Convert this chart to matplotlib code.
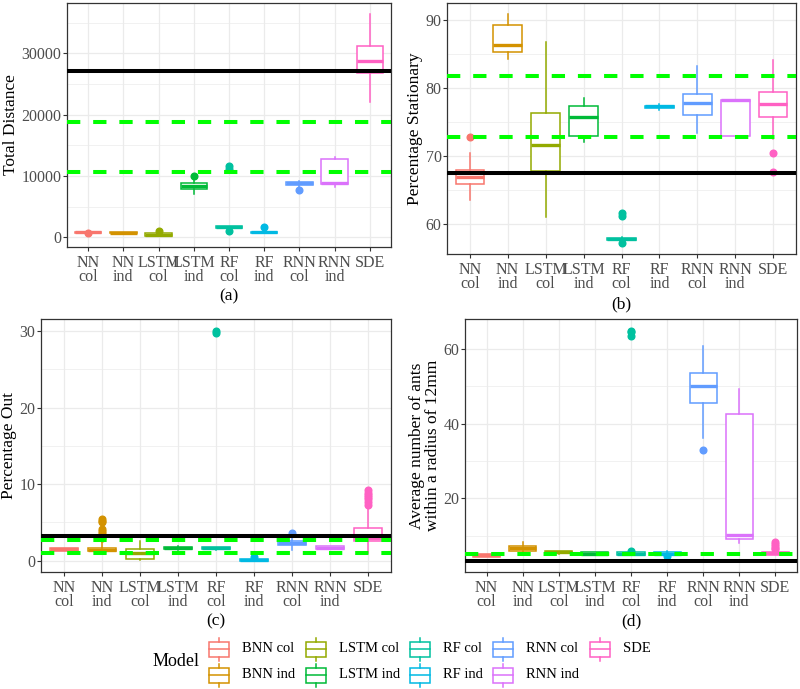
import matplotlib.pyplot as plt
from matplotlib.patches import Rectangle
from matplotlib.ticker import FixedLocator

plt.rcParams['font.family'] = ['Liberation Serif', 'DejaVu Serif']

models = ["BNN col", "BNN ind", "LSTM col", "LSTM ind", "RF col",
          "RF ind", "RNN col", "RNN ind", "SDE"]
tick_labels = ["NN\ncol", "NN\nind", "LSTM\ncol", "LSTM\nind", "RF\ncol",
               "RF\nind", "RNN\ncol", "RNN\nind", "SDE"]
colors = ["#F8766D", "#D39200", "#93AA00", "#00BA38", "#00C19F",
          "#00B9E3", "#619CFF", "#DB72FB", "#FF61C3"]

# (a) total distance
dist_med = [800, 750, 430, 8300, 1600, 780, 8800, 8880, 28800]
dist_q1 = [700, 680, 220, 7900, 1450, 650, 8500, 8660, 26850]
dist_q3 = [900, 820, 650, 8880, 1750, 900, 9040, 12670, 31130]
dist_lo = [650, 650, 200, 7000, 1300, 600, 8000, 8120, 22040]
dist_hi = [950, 850, 700, 9800, 1900, 1500, 9200, 13100, 36380]
dist_fliers = [[600], [], [1030], [10000], [11600, 11200, 1080], [1650],
               [7630], [], []]
dist_black = 27070
dist_green = [10670, 18790]

# (b) percentage stationary
stat_med = [66.9, 86.3, 71.6, 75.8, 57.9, 77.3, 77.8, 78.2, 77.6]
stat_q1 = [65.95, 85.3, 67.8, 73.0, 57.7, 77.1, 76.0, 72.9, 75.8]
stat_q3 = [67.9, 89.2, 76.4, 77.4, 58.0, 77.4, 79.1, 78.3, 79.4]
stat_lo = [63.5, 84.2, 61.1, 72.0, 57.6, 76.7, 73.4, 72.9, 72.5]
stat_hi = [70.4, 90.8, 86.8, 78.5, 58.1, 77.7, 83.2, 78.3, 84.1]
stat_fliers = [[72.8], [], [], [], [61.6, 61.2, 57.3], [], [], [],
               [70.4, 67.7]]
stat_black = 67.5
stat_green = [72.8, 81.7]

# (c) percentage out
out_med = [1.45, 1.4, 1.0, 1.6, 1.6, 0.05, 2.3, 1.7, 3.0]
out_q1 = [1.25, 1.25, 0.2, 1.45, 1.45, 0.0, 2.0, 1.55, 2.55]
out_q3 = [1.65, 1.6, 1.55, 1.8, 1.75, 0.15, 2.6, 1.85, 4.25]
out_lo = [1.2, 1.2, 0.1, 1.4, 1.4, 0.0, 1.4, 1.5, 1.0]
out_hi = [1.7, 2.8, 2.5, 1.85, 1.8, 0.2, 3.3, 1.9, 7.0]
out_fliers = [[], [3.0, 3.3, 3.6, 3.9, 4.1, 5.0, 5.2, 5.4], [], [],
              [30.1, 29.8], [0.4], [3.6], [],
              [7.3, 7.6, 8.0, 8.3, 8.6, 8.9, 9.2]]
out_black = 3.2
out_green = [1.0, 2.7]

# (d) average number of ants within 12mm
near_med = [4.7, 6.6, 5.6, 5.2, 5.2, 5.2, 50.0, 10.2, 5.3]
near_q1 = [4.4, 5.9, 5.3, 4.8, 4.9, 4.8, 45.6, 9.1, 4.8]
near_q3 = [5.0, 7.3, 5.9, 5.6, 5.5, 5.7, 53.5, 42.5, 5.7]
near_lo = [4.3, 5.5, 5.2, 4.7, 4.8, 4.7, 36.2, 8.0, 4.7]
near_hi = [5.1, 8.2, 6.0, 5.7, 5.6, 5.8, 60.9, 49.4, 5.8]
near_fliers = [[], [], [], [], [5.9, 63.5, 64.6, 65.0], [4.6], [33.1], [],
               [6.4, 6.8, 7.3, 7.8, 8.2]]
near_black = 3.35
near_green = [5.0]

GRID = "#EBEBEB"
DARK = "#333333"
TICKTXT = "#4D4D4D"


def draw_panel(ax, med, q1, q3, lo, hi, fliers, black, green,
               ylabel, panel, yticks, yminor):
    stats = []
    for i in range(len(models)):
        stats.append(dict(med=med[i], q1=q1[i], q3=q3[i], whislo=lo[i],
                          whishi=hi[i], fliers=fliers[i]))
    pos = list(range(1, len(models) + 1))
    art = ax.bxp(stats, positions=pos, widths=0.75, patch_artist=True,
                 showcaps=False, manage_ticks=False, zorder=3)
    for i, c in enumerate(colors):
        art["boxes"][i].set(facecolor="white", edgecolor=c, linewidth=1.1)
        art["medians"][i].set(color=c, linewidth=2.4, solid_capstyle="butt")
        art["whiskers"][2 * i].set(color=c, linewidth=1.1)
        art["whiskers"][2 * i + 1].set(color=c, linewidth=1.1)
        art["fliers"][i].set(marker="o", markerfacecolor=c,
                             markeredgecolor=c, markersize=4.8)

    ax.axhline(black, color="black", linewidth=2.9, zorder=5)
    for g in green:
        ax.axhline(g, color="#00FF00", linewidth=2.9, dashes=(3.3, 3.2),
                   zorder=5)

    # limits with ggplot-like 5% expansion
    vals = lo + hi + [black] + green + [v for f in fliers for v in f]
    vmin, vmax = min(vals), max(vals)
    pad = (vmax - vmin) * 0.05
    ax.set_ylim(vmin - pad, vmax + pad)
    ax.set_xlim(0.4, len(models) + 0.6)

    ax.set_xticks(pos)
    ax.set_xticklabels(tick_labels, linespacing=0.85)
    ax.set_yticks(yticks)
    ax.yaxis.set_minor_locator(FixedLocator(yminor))
    ax.grid(True, which="major", color=GRID, linewidth=0.9, zorder=0)
    ax.grid(True, which="minor", axis="y", color=GRID, linewidth=0.5,
            zorder=0)
    ax.set_axisbelow(True)
    ax.tick_params(which="major", length=2.9, width=0.8, color=DARK,
                   labelsize=11.5, labelcolor=TICKTXT)
    ax.tick_params(axis="x", pad=2.5)
    ax.tick_params(axis="y", pad=1)
    ax.tick_params(which="minor", length=0)
    for s in ax.spines.values():
        s.set_color(DARK)
        s.set_linewidth(0.9)
    ax.set_ylabel(ylabel, fontsize=12.5, labelpad=2, linespacing=1.0)
    ax.set_xlabel(panel, fontsize=12.5, labelpad=3)


fig = plt.figure(figsize=(8, 6.89), dpi=100)

ax_a = fig.add_axes([0.08375, 0.6415, 0.405, 0.354])
ax_b = fig.add_axes([0.55875, 0.6313, 0.43625, 0.3643])
ax_c = fig.add_axes([0.05125, 0.1698, 0.4375, 0.3672])
ax_d = fig.add_axes([0.58125, 0.1698, 0.415, 0.3672])

draw_panel(ax_a, dist_med, dist_q1, dist_q3, dist_lo, dist_hi, dist_fliers,
           dist_black, dist_green, "Total Distance", "(a)",
           [0, 10000, 20000, 30000], [5000, 15000, 25000, 35000])
draw_panel(ax_b, stat_med, stat_q1, stat_q3, stat_lo, stat_hi, stat_fliers,
           stat_black, stat_green, "Percentage Stationary", "(b)",
           [60, 70, 80, 90], [55, 65, 75, 85])
draw_panel(ax_c, out_med, out_q1, out_q3, out_lo, out_hi, out_fliers,
           out_black, out_green, "Percentage Out", "(c)",
           [0, 10, 20, 30], [5, 15, 25])
draw_panel(ax_d, near_med, near_q1, near_q3, near_lo, near_hi, near_fliers,
           near_black, near_green,
           "Average number of ants\nwithin a radius of 12mm", "(d)",
           [20, 40, 60], [10, 30, 50])

# legend drawn in pixel space
leg = fig.add_axes([0, 0, 1, 1])
leg.set_xlim(0, 800)
leg.set_ylim(689, 0)
leg.axis("off")
leg.patch.set_alpha(0)

leg.text(153, 662, "Model", fontsize=13, ha="left", va="center")
key_x = [219, 316, 420, 503, 600]
row_y = [649, 675]
for i, (name, c) in enumerate(zip(models, colors)):
    col, row = divmod(i, 2)
    cx, cy = key_x[col], row_y[row]
    leg.add_patch(Rectangle((cx - 10, cy - 7.5), 20, 15, facecolor="white",
                            edgecolor=c, linewidth=1.1))
    leg.plot([cx - 10, cx + 10], [cy, cy], color=c, linewidth=1.1)
    leg.plot([cx, cx], [cy - 7.5, cy - 11.5], color=c, linewidth=1.1)
    leg.plot([cx, cx], [cy + 7.5, cy + 11.5], color=c, linewidth=1.1)
    leg.text(cx + 23, cy, name, fontsize=10.5, ha="left", va="center")

fig.savefig("out.png", dpi=100)
